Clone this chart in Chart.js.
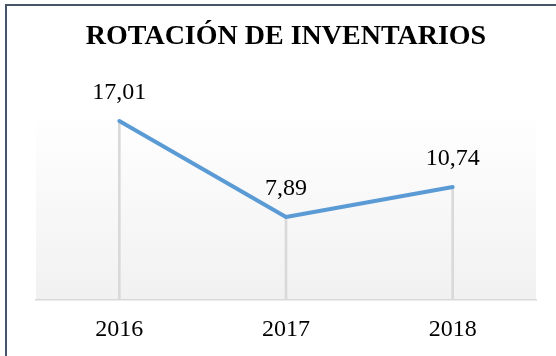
<!DOCTYPE html>
<html>
<head>
<meta charset="utf-8">
<script src="https://cdn.jsdelivr.net/npm/chart.js@4"></script>
<style>
    html, body { margin: 0; padding: 0; background: #fff; overflow: hidden; }
    #wrap { position: relative; width: 556px; height: 356px; }
    #frame {
        position: absolute; left: 5px; top: 4px; width: 640px; height: 420px;
        border-left: 2px solid #46546a; border-top: 2px solid #46546a;
        pointer-events: none;
    }
</style>
</head>
<body>
<div id="wrap">
    <canvas id="rotacionChart" width="556" height="356"></canvas>
    <div id="frame"></div>
</div>
<script>
// datos
const years = ['2016', '2017', '2018'];
const rotacion = [17.01, 7.89, 10.74];
const yMax = 18;

const serif = '"Liberation Serif", "Times New Roman", serif';

function formatValue(v) {
    return v.toFixed(2).replace('.', ',');
}

// fondo degradado del área de trazado
const plotBackground = {
    id: 'plotBackground',
    beforeDraw(chart) {
        const { ctx, chartArea } = chart;
        const g = ctx.createLinearGradient(0, chartArea.top, 0, chartArea.bottom);
        g.addColorStop(0, '#ffffff');
        g.addColorStop(1, '#f1f1f1');
        ctx.save();
        ctx.fillStyle = g;
        ctx.fillRect(chartArea.left, chartArea.top, chartArea.right - chartArea.left, chartArea.bottom - chartArea.top);
        ctx.restore();
    }
};

// etiquetas de valor sobre cada punto
const valueLabels = {
    id: 'valueLabels',
    afterDatasetsDraw(chart) {
        const { ctx } = chart;
        const meta = chart.getDatasetMeta(0);
        ctx.save();
        ctx.font = '24px ' + serif;
        ctx.fillStyle = '#000';
        ctx.textAlign = 'center';
        ctx.textBaseline = 'alphabetic';
        meta.data.forEach((pt, i) => {
            ctx.fillText(formatValue(rotacion[i]), pt.x, pt.y - 22);
        });
        ctx.restore();
    }
};

new Chart(document.getElementById('rotacionChart'), {
    type: 'line',
    data: {
        labels: years,
        datasets: [
            {
                label: 'Rotación',
                data: rotacion,
                borderColor: '#5b9bd5',
                borderWidth: 4,
                borderCapStyle: 'round',
                borderJoinStyle: 'round',
                tension: 0,
                pointRadius: 0,
                fill: false,
                order: 0
            },
            {
                // líneas de caída hasta el eje
                type: 'bar',
                label: 'caída',
                data: rotacion,
                backgroundColor: '#d9d9d9',
                barThickness: 2,
                order: 1
            }
        ]
    },
    options: {
        responsive: false,
        animation: false,
        layout: {
            padding: { left: 36, right: 20, top: 0, bottom: 0 }
        },
        scales: {
            x: {
                offset: true,
                grid: { display: false, drawTicks: false },
                border: { display: true, color: '#d9d9d9', width: 1.5 },
                ticks: {
                    padding: 15,
                    color: '#000',
                    font: { family: serif, size: 24 }
                },
                afterFit(scale) {
                    scale.height = 56;
                }
            },
            y: {
                display: false,
                min: 0,
                max: yMax
            }
        },
        plugins: {
            legend: { display: false },
            tooltip: { enabled: false },
            title: {
                display: true,
                text: 'ROTACIÓN DE INVENTARIOS',
                color: '#000',
                font: { family: serif, size: 28, weight: 'bold' },
                padding: { top: 20, bottom: 57 }
            }
        }
    },
    plugins: [plotBackground, valueLabels]
});
</script>
</body>
</html>
